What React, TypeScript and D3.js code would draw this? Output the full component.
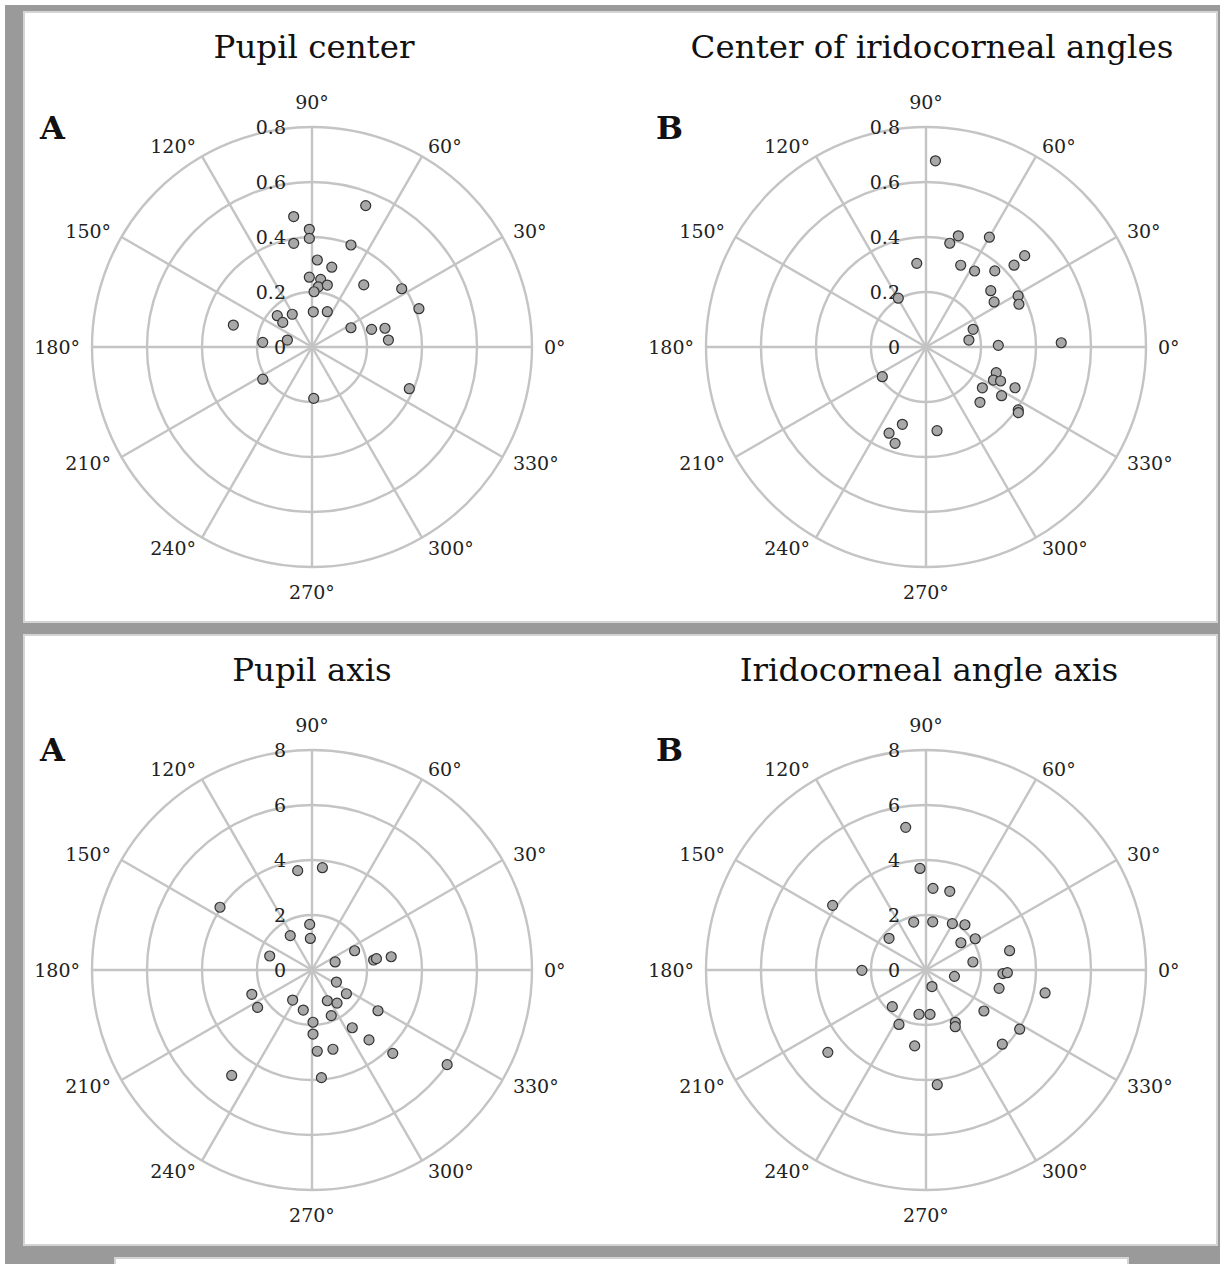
import React, { useEffect, useRef } from 'react'
import * as d3 from 'd3'

const angleTicks = [0, 30, 60, 90, 120, 150, 180, 210, 240, 270, 300, 330]
const centerTicks = [0, 0.2, 0.4, 0.6, 0.8]
const axisTicks = [0, 2, 4, 6, 8]

// each point is [angle in degrees, distance from origin]
const pupilCenter: [number, number][] = [
  [69.2, 0.55], [98.0, 0.479], [91.3, 0.428], [91.4, 0.395], [100.0, 0.383],
  [69.1, 0.397], [86.5, 0.317], [76.1, 0.299], [92.2, 0.254], [82.7, 0.248],
  [84.0, 0.22], [76.1, 0.232], [87.9, 0.201], [50.2, 0.294], [33.0, 0.389],
  [19.7, 0.413], [87.9, 0.128], [66.6, 0.14], [138.0, 0.17], [121.1, 0.139],
  [139.9, 0.139], [164.4, 0.297], [26.3, 0.158], [16.5, 0.226], [14.4, 0.274],
  [5.2, 0.279], [174.6, 0.18], [164.2, 0.093], [213.2, 0.214], [336.8, 0.385],
  [271.9, 0.187]
]

const angleCenter: [number, number][] = [
  [87.1, 0.678], [73.8, 0.421], [77.1, 0.387], [60.0, 0.461], [96.3, 0.306],
  [67.0, 0.323], [57.4, 0.328], [47.9, 0.373], [42.9, 0.437], [42.8, 0.489],
  [41.0, 0.312], [33.5, 0.297], [29.0, 0.383], [24.7, 0.372], [119.6, 0.204],
  [20.6, 0.183], [9.2, 0.158], [1.3, 0.263], [1.8, 0.492], [214.2, 0.192],
  [339.9, 0.272], [333.9, 0.273], [335.5, 0.298], [324.1, 0.253], [335.4, 0.356],
  [327.2, 0.327], [314.3, 0.281], [325.7, 0.406], [324.6, 0.412], [253.0, 0.294],
  [246.8, 0.341], [252.2, 0.368], [277.5, 0.307]
]

const pupilAxis: [number, number][] = [
  [98.2, 3.65], [84.2, 3.74], [145.7, 4.05], [92.9, 1.66], [122.3, 1.48],
  [93.0, 1.15], [161.7, 1.62], [24.3, 1.7], [19.2, 0.89], [9.2, 2.27],
  [10.0, 2.38], [9.5, 2.92], [333.7, 0.99], [325.4, 1.52], [202.0, 2.36],
  [214.5, 2.4], [237.2, 1.3], [296.5, 1.25], [307.1, 1.51], [257.7, 1.49],
  [328.3, 2.82], [292.9, 1.8], [271.1, 1.9], [270.9, 2.33], [304.9, 2.56],
  [309.2, 3.28], [273.7, 2.96], [284.8, 2.98], [314.1, 4.22], [325.0, 6.0],
  [232.7, 4.82], [275.0, 3.93]
]

const angleAxis: [number, number][] = [
  [98.1, 5.24], [93.4, 3.7], [85.1, 2.98], [73.2, 2.99], [145.3, 4.13],
  [104.4, 1.8], [82.1, 1.77], [60.4, 1.94], [49.3, 2.17], [139.4, 1.77],
  [38.0, 1.61], [32.4, 2.12], [13.0, 3.12], [9.7, 1.73], [180.3, 2.33],
  [347.4, 1.06], [357.3, 2.8], [358.1, 2.96], [289.8, 0.64], [345.9, 2.74],
  [349.1, 4.41], [227.4, 1.81], [261.0, 1.63], [275.2, 1.62], [324.7, 2.58],
  [243.6, 2.21], [299.3, 2.18], [297.3, 2.32], [327.7, 4.03], [261.5, 2.79],
  [315.8, 3.87], [220.0, 4.66], [275.6, 4.19]
]

const serif = '"DejaVu Serif", serif'

export default function App() {
  const ref = useRef<SVGSVGElement>(null)

  useEffect(() => {
    document.body.style.margin = '0'
    const svg = d3.select(ref.current)
    svg.selectAll('*').remove()

    // frame
    svg.append('rect').attr('x', 5).attr('y', 5).attr('width', 1215).attr('height', 1259).attr('fill', '#9a9a9a')
    const panels = [
      { x: 24, y: 12, w: 1193, h: 610 },
      { x: 24, y: 635, w: 1193, h: 610 },
      { x: 115, y: 1258, w: 1013, h: 20 }
    ]
    panels.forEach(p => {
      svg.append('rect')
        .attr('x', p.x).attr('y', p.y).attr('width', p.w).attr('height', p.h)
        .attr('fill', '#fff').attr('stroke', '#d4d4d4').attr('stroke-width', 2)
    })

    const plots = [
      { cx: 312, cy: 347, title: 'Pupil center', tx: 314, ty: 58, letter: 'A', lx: 40, ly: 139, ticks: centerTicks, data: pupilCenter },
      { cx: 926, cy: 347, title: 'Center of iridocorneal angles', tx: 932, ty: 58, letter: 'B', lx: 656, ly: 139, ticks: centerTicks, data: angleCenter },
      { cx: 312, cy: 970, title: 'Pupil axis', tx: 312, ty: 681, letter: 'A', lx: 40, ly: 761, ticks: axisTicks, data: pupilAxis },
      { cx: 926, cy: 970, title: 'Iridocorneal angle axis', tx: 929, ty: 681, letter: 'B', lx: 656, ly: 761, ticks: axisTicks, data: angleAxis }
    ]

    plots.forEach(p => {
      const g = svg.append('g')
      const maxR = d3.max(p.ticks) as number
      const r = d3.scaleLinear().domain([0, maxR]).range([0, 220])
      const rad = (deg: number) => (deg * Math.PI) / 180
      const px = (a: number, v: number) => p.cx + r(v) * Math.cos(rad(a))
      const py = (a: number, v: number) => p.cy - r(v) * Math.sin(rad(a))

      g.append('text')
        .attr('x', p.tx).attr('y', p.ty)
        .attr('text-anchor', 'middle')
        .attr('font-family', serif).attr('font-size', 32.5)
        .attr('fill', '#111')
        .text(p.title)

      g.append('text')
        .attr('x', p.lx).attr('y', p.ly)
        .attr('font-family', serif).attr('font-size', 32).attr('font-weight', 'bold')
        .attr('fill', '#111')
        .text(p.letter)

      // rings
      g.selectAll('.ring')
        .data(p.ticks.filter(t => t > 0))
        .enter()
        .append('circle')
        .attr('cx', p.cx).attr('cy', p.cy)
        .attr('r', d => r(d))
        .attr('fill', 'none').attr('stroke', '#c4c4c4').attr('stroke-width', 2.4)

      // spokes
      g.selectAll('.spoke')
        .data(angleTicks)
        .enter()
        .append('line')
        .attr('x1', p.cx).attr('y1', p.cy)
        .attr('x2', d => px(d, maxR)).attr('y2', d => py(d, maxR))
        .attr('stroke', '#c4c4c4').attr('stroke-width', 2.4)

      // radial tick labels
      g.selectAll('.rtick')
        .data(p.ticks)
        .enter()
        .append('text')
        .attr('x', p.cx - 26)
        .attr('y', d => p.cy - r(d))
        .attr('dy', '0.35em')
        .attr('text-anchor', 'end')
        .attr('font-family', serif).attr('font-size', 19)
        .attr('fill', '#222')
        .text(d => String(d))

      // angle labels, box pushed out beyond radius 232
      g.selectAll('.atick')
        .data(angleTicks)
        .enter()
        .append('text')
        .attr('text-anchor', 'middle')
        .attr('dy', '0.35em')
        .attr('font-family', serif).attr('font-size', 19)
        .attr('fill', '#222')
        .text(d => d + '°')
        .each(function (d) {
          const w = (this as SVGTextElement).getComputedTextLength()
          const c = Math.cos(rad(d))
          const s = Math.sin(rad(d))
          const ox = Math.abs(c) < 0.01 ? 0 : Math.sign(c) * w / 2
          const oy = Math.abs(c) < 0.01 ? Math.sign(s) * 13 : 0
          d3.select(this)
            .attr('x', p.cx + 232 * c + ox)
            .attr('y', p.cy - (232 * s + oy))
        })

      // points
      g.selectAll('.pt')
        .data(p.data)
        .enter()
        .append('circle')
        .attr('cx', d => px(d[0], d[1]))
        .attr('cy', d => py(d[0], d[1]))
        .attr('r', 5)
        .attr('fill', '#a8a8a8')
        .attr('stroke', '#333')
        .attr('stroke-width', 1.2)
    })
  }, [])

  return <svg ref={ref} width={1225} height={1264} style={{ display: 'block' }} />
}
